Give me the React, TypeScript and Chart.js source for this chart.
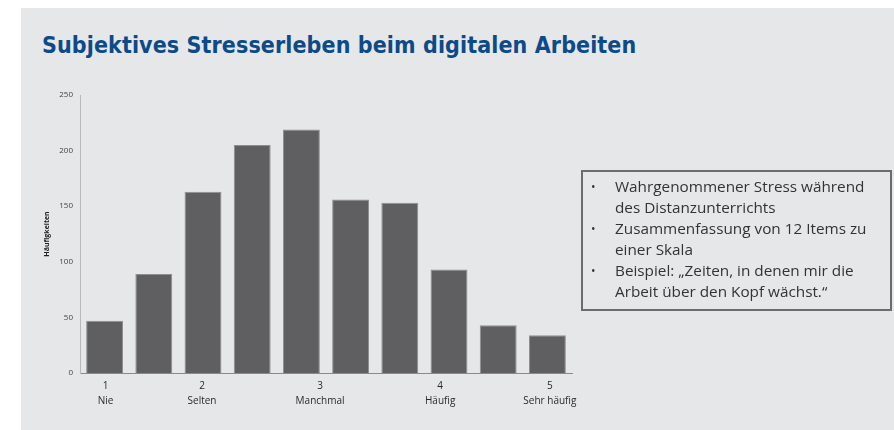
import React, { useEffect, useRef } from "react";
import { Chart, registerables } from "chart.js";
Chart.register(...registerables);

// Histogram bins (scale 1–5 split into 10 bins)
const binLabels = ["1,0–1,4", "1,4–1,8", "1,8–2,2", "2,2–2,6", "2,6–3,0", "3,0–3,4", "3,4–3,8", "3,8–4,2", "4,2–4,6", "4,6–5,0"];
const frequencies = [47, 89, 163, 205, 219, 156, 153, 93, 43, 34];

// Scale anchors shown under the axis (position in bin-index units)
const scaleNumbers = ["1", "2", "3", "4", "5"];
const scaleNames = ["Nie", "Selten", "Manchmal", "Häufig", "Sehr häufig"];
const scalePositions = [0.02, 1.98, 4.38, 6.82, 9.05];

const yTicks = [0, 50, 100, 150, 200, 250];

const titleText = "Subjektives Stresserleben beim digitalen Arbeiten";
const yAxisTitle = "Häufigkeiten";
const bullets = [
  "Wahrgenommener Stress während des Distanzunterrichts",
  "Zusammenfassung von 12 Items zu einer Skala",
  "Beispiel: „Zeiten, in denen mir die Arbeit über den Kopf wächst.“",
];

export default function App() {
  const canvasRef = useRef<HTMLCanvasElement | null>(null);

  useEffect(() => {
    const canvas = canvasRef.current;
    if (!canvas) return;
    const chart = new Chart(canvas, {
      type: "bar",
      data: {
        labels: binLabels,
        datasets: [
          {
            data: frequencies,
            backgroundColor: "#5f5f61",
            borderColor: "#8e8e90",
            borderWidth: 1,
            categoryPercentage: 0.75,
            barPercentage: 1,
          },
        ],
      },
      options: {
        responsive: false,
        animation: false,
        layout: { padding: { left: 43, right: 322, top: 95, bottom: 20 } },
        plugins: { legend: { display: false }, tooltip: { enabled: false } },
        scales: {
          x: { display: false, offset: true },
          x2: {
            type: "linear",
            position: "bottom",
            bounds: "data",
            offset: false,
            min: -0.5,
            max: 9.5,
            grid: { display: false, drawTicks: false, offset: false },
            border: { display: true, color: "#8a8a8a", width: 1 },
            afterBuildTicks: (axis: any) => {
              axis.ticks = scalePositions.map((v) => ({ value: v }));
            },
            afterFit: (axis: any) => {
              axis.height = 37;
            },
            ticks: {
              autoSkip: false,
              maxRotation: 0,
              padding: 6,
              color: "#2a2a2a",
              font: { family: "Open Sans", size: 10, lineHeight: 1.45 },
              callback: (v: any) => {
                const i = scalePositions.indexOf(Number(v));
                return i >= 0 ? [scaleNumbers[i], scaleNames[i]] : "";
              },
            },
          },
          y: {
            min: 0,
            max: 250,
            grid: { display: false, drawTicks: false },
            border: { display: true, color: "#b8b8b8", width: 1 },
            afterBuildTicks: (axis: any) => {
              axis.ticks = yTicks.map((v) => ({ value: v }));
            },
            afterFit: (axis: any) => {
              axis.width = 37;
            },
            ticks: {
              padding: 7,
              color: "#444",
              font: { family: "Open Sans", size: 8 },
            },
            title: {
              display: true,
              text: yAxisTitle,
              color: "#222",
              padding: 0,
              font: { family: "Open Sans", size: 7, weight: "bold" },
            },
          },
        },
      },
    });
    return () => chart.destroy();
  }, []);

  return (
    <div style={{ position: "fixed", left: 0, top: 0, width: 894, height: 430, background: "#ffffff", overflow: "hidden" }}>
      <div style={{ position: "absolute", left: 21, top: 8, width: 873, height: 422, background: "#e6e7e9" }} />
      <div
        style={{
          position: "absolute",
          left: 42,
          top: 32,
          fontFamily: "'DejaVu Sans Condensed', 'DejaVu Sans'",
          fontStretch: "condensed",
          fontWeight: "bold",
          fontSize: 23,
          letterSpacing: 0.1,
          color: "#0c4a88",
          whiteSpace: "nowrap",
        }}
      >
        {titleText}
      </div>
      <canvas ref={canvasRef} width={894} height={430} style={{ position: "absolute", left: 0, top: 0 }} />
      <div
        style={{
          position: "absolute",
          left: 581,
          top: 170,
          width: 311,
          height: 141,
          border: "2px solid #6c6c6c",
          fontFamily: "Open Sans",
          fontSize: 15.3,
          lineHeight: "21px",
          color: "#333",
          paddingTop: 4,
          boxSizing: "border-box",
        }}
      >
        {bullets.map((b, i) => (
          <div key={i} style={{ position: "relative", paddingLeft: 32, paddingRight: 12 }}>
            <span style={{ position: "absolute", left: 8, fontSize: 12 }}>•</span>
            {b}
          </div>
        ))}
      </div>
    </div>
  );
}
